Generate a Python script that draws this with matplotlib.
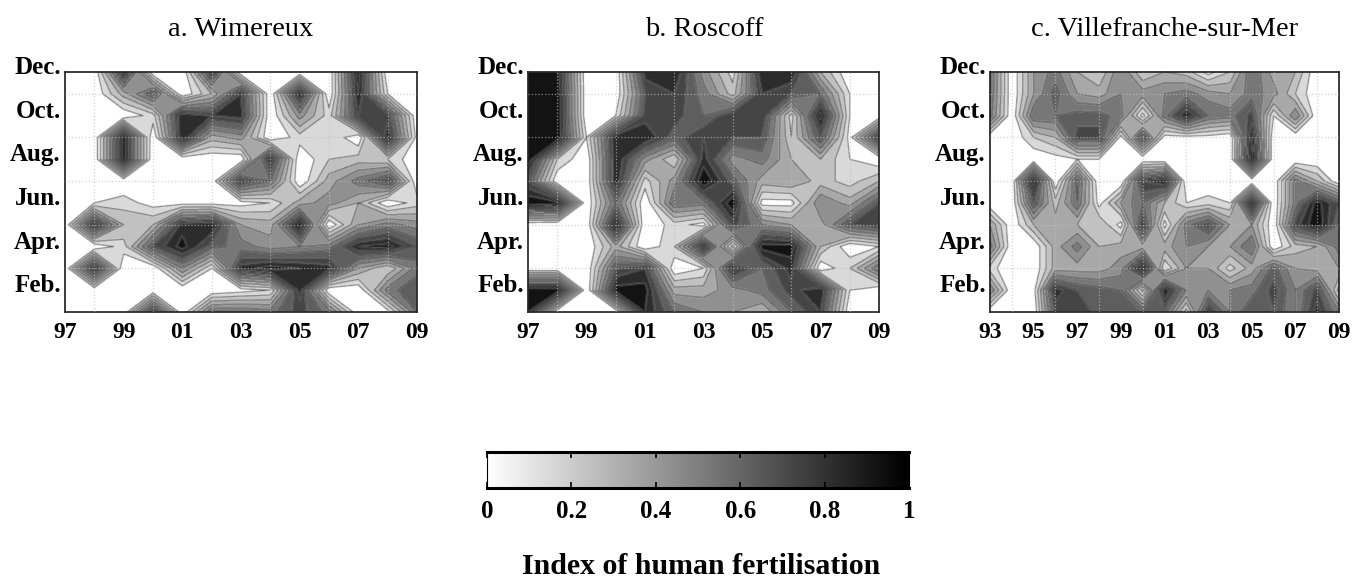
import numpy as np
import matplotlib
matplotlib.use("Agg")
import matplotlib.pyplot as plt
from matplotlib.transforms import ScaledTranslation
from matplotlib.colors import LinearSegmentedColormap

plt.rcParams['font.family'] = ['Liberation Serif', 'DejaVu Serif']

month_ticks = ['Feb.', 'Apr.', 'Jun.', 'Aug.', 'Oct.', 'Dec.']
month_pos = [2, 4, 6, 8, 10, 12]
cbar_ticks = [0, 0.2, 0.4, 0.6, 0.8, 1]
cbar_labels = ['0', '0.2', '0.4', '0.6', '0.8', '1']
levels = np.linspace(0, 1, 11)

years_a = list(range(1997, 2010))
years_c = list(range(1993, 2010))

# rows run Dec -> Jan, columns by year
wimereux = [
    [0, 0, .85, 0, 0, .8, 0, 0, 0, 0, .95, 0, 0],
    [0, 0, .35, .7, 0, .3, .8, 0, .9, 0, .9, .1, 0],
    [0, 0, 0, .15, .9, .8, .85, 0, .45, .15, .8, .75, 0],
    [0, 0, .95, 0, .9, .35, .45, 0, .15, .2, 0, .9, .05],
    [0, 0, .95, 0, 0, 0, 0, .85, 0, .2, .25, .2, 0],
    [0, 0, 0, 0, 0, 0, .8, .6, 0, .35, .55, .75, 0],
    [0, .1, .15, .05, .05, .05, .05, .1, .35, .45, .3, 0, .15],
    [0, .85, .3, .3, .85, .9, .4, .35, .95, 0, .4, .55, .45],
    [0, 0, .15, .7, .95, .65, .55, .45, .5, .55, .9, .95, .7],
    [0, .85, 0, 0, .5, .1, .85, .95, .9, .85, .4, .2, .55],
    [0, 0, 0, 0, 0, 0, .05, .1, .85, 0, 0, .55, .7],
    [0, 0, 0, .8, 0, .6, .6, .55, .75, .55, 0, .05, .6],
]
roscoff = [
    [.95, .95, 0, 0, .85, .9, .45, .15, .9, .9, .3, 0, 0],
    [1, 1, 0, 0, .7, .8, .55, .25, .8, .7, .6, .1, 0],
    [1, 1, 0, .1, .75, .75, .6, .8, .8, .15, .95, .1, 0],
    [1, 1, .1, .9, .9, .65, .8, .7, .7, .2, .7, .05, .8],
    [1, .2, 0, .9, .45, .2, .85, .45, .55, .3, .3, .1, 0],
    [.7, 0, 0, .9, .15, .45, 1, .65, .35, .4, .25, .15, .3],
    [1, .95, 0, .6, 0, .6, .55, 1, .05, .05, .5, .35, .7],
    [0, 0, 0, .95, 0, .15, .05, .75, .5, .4, .35, .7, .8],
    [0, 0, 0, .35, 0, .2, .85, .05, .95, .95, .3, 0, .1],
    [0, 0, 0, .7, .8, 0, .1, .85, .6, .85, 0, .2, .6],
    [1, 1, 0, .95, .95, .35, .35, .45, .55, .75, .9, .1, 0],
    [.9, 0, 0, 0, .9, .6, .5, .4, .3, .6, .8, 0, 0],
]
villefranche = [
    [.6, 0, .4, .55, .3, .2, .5, .2, .3, .25, .05, .2, .6, .35, .3, 0, 0],
    [.6, 0, .4, .65, .4, .35, .5, .45, .5, .55, .45, .4, .55, .45, .2, 0, 0],
    [.55, 0, .6, .6, .65, .65, .55, .05, .55, .9, .6, .55, .75, .1, .5, 0, 0],
    [0, 0, .2, .3, .75, .75, .05, .7, .05, .05, .05, 0, .9, 0, 0, 0, 0],
    [0, 0, 0, .05, .1, .1, 0, 0, 0, 0, 0, 0, .95, 0, 0, 0, 0],
    [0, 0, .95, 0, .65, 0, 0, .8, .9, 0, 0, 0, 0, 0, .55, .3, 0],
    [0, 0, .7, .25, .6, .05, .4, .6, .3, .1, .15, .1, .9, 0, .55, .95, .7],
    [.4, 0, .3, .35, .3, .3, .05, .8, .05, .55, .75, .4, .4, 0, .75, 1, .6],
    [.55, 0, 0, .35, .55, .3, .35, .35, .35, .5, .4, .4, .6, 0, .25, .3, .55],
    [.15, 0, 0, .35, .35, .35, .45, .95, .1, .4, .4, .15, .35, .65, .4, .35, .4],
    [.5, 0, .05, .85, .7, .65, .6, .05, .9, .5, .5, .5, .55, .75, .5, .75, .15],
    [0, 0, 0, .75, .8, .65, .65, .6, .65, .15, .8, .5, .7, .7, .5, .85, .5],
]

W, H = 1355, 578
fig = plt.figure(figsize=(W / 100, H / 100), dpi=100)


def axpx(x0, x1, y0, y1):
    return fig.add_axes([x0 / W, 1 - y1 / H, (x1 - x0) / W, (y1 - y0) / H])


cmap = LinearSegmentedColormap.from_list('g', ['#ffffff', '#000000'])
band_colors = ['#ffffff'] + [str(round(1 - (i + 0.5) / 10 * 0.97, 3)) for i in range(1, 10)]
kernel = np.array([0.15, 0.7, 0.15])


def soften(img, dpi):
    pad = 3
    out = np.pad(img, ((pad, pad), (pad, pad), (0, 0)))
    for axis in (0, 1):
        out = np.apply_along_axis(lambda m: np.convolve(m, kernel, mode='same'), axis, out)
    return out, -pad, -pad


def panel(box, years, data, title, tcx):
    ax = axpx(*box)
    z = np.array(data)[::-1]
    months = np.arange(1, 13)
    cf = ax.contourf(years, months, z, levels=levels, colors=band_colors, extend='neither')
    cl = ax.contour(years, months, z, levels=levels[1:-1], colors='#5a5a5a', linewidths=0.7)
    cf.set_agg_filter(soften)
    cl.set_agg_filter(soften)
    ax.set_xlim(years[0], years[-1])
    ax.set_ylim(1, 12)
    ax.set_xticks(years, minor=True)
    ax.set_yticks(months, minor=True)
    ax.grid(which='minor', color='#c0c0c0', lw=0.9, ls=':', alpha=0.7)
    ax.set_axisbelow(False)
    ax.tick_params(which='both', length=0)
    xt = years[::2]
    ax.set_xticks(xt)
    ax.set_xticklabels([f'{y % 100:02d}' for y in xt], fontweight='bold', fontsize=17)
    ax.set_yticks(month_pos)
    ax.set_yticklabels(month_ticks, fontweight='bold', fontsize=18)
    ax.tick_params(axis='x', pad=7.5)
    ax.tick_params(axis='y', pad=3)
    off = ScaledTranslation(0, 0.07, fig.dpi_scale_trans)
    for lab in ax.get_yticklabels():
        lab.set_transform(lab.get_transform() + off)
    for s in ax.spines.values():
        s.set_linewidth(1.2)
        s.set_color('#222222')
    fig.text(tcx / W, 1 - 29 / H, title, ha='center', va='center', fontsize=20.5)
    return ax


panel((65, 417, 72, 312), years_a, wimereux, 'a. Wimereux', 241)
panel((528, 879, 72, 312), years_a, roscoff, 'b. Roscoff', 704)
panel((990, 1339, 72, 312), years_c, villefranche, 'c. Villefranche-sur-Mer', 1165)

cax = axpx(487, 909, 452, 488)
cax.imshow(np.linspace(0, 1, 256)[None, :], cmap=cmap, vmin=0, vmax=1, aspect='auto', extent=[0, 1, 0, 1])
cax.set_yticks([])
cax.set_xticks(cbar_ticks)
cax.set_xticklabels(cbar_labels, fontweight='bold', fontsize=18)
cax.tick_params(axis='x', direction='in', length=4, width=1.2, top=True, pad=9)
for n, s in cax.spines.items():
    s.set_linewidth(2.2 if n in ('top', 'bottom') else 0.8)

fig.text(701 / W, 1 - 567 / H, 'Index of human fertilisation', ha='center', va='center',
         fontweight='bold', fontsize=21.5)

fig.savefig('out.png', dpi=100)
